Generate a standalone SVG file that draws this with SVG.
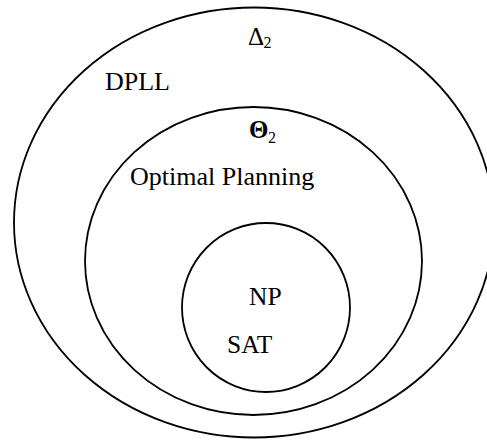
<svg xmlns="http://www.w3.org/2000/svg" width="487" height="440" viewBox="0 0 487 440">
<style>
.set{fill:none;stroke:#000;stroke-width:1.8}
text{fill:#000}
.lbl{font-size:26px}
.lbs{font-size:25.5px}
.sym{font-size:25px}
.sub{font-size:16px}
</style>
<rect width="487" height="440" fill="#fff"/>
<g id="delta2">
<ellipse class="set" cx="254" cy="222.5" rx="240" ry="215"/>
<text class="sym" x="248" y="45" font-family="Liberation Serif, serif">Δ</text><text class="sub" x="263.5" y="48" font-family="Liberation Serif, serif">2</text>
<text class="lbl" x="105" y="90" font-family="Liberation Serif, serif">DPLL</text>
</g>
<g id="theta2">
<ellipse class="set" cx="253.5" cy="261" rx="168.5" ry="154"/>
<text class="sym" x="249" y="138" font-family="Liberation Serif, serif" font-weight="bold">Θ</text><text class="sub" x="268" y="143" font-family="Liberation Serif, serif">2</text>
<text class="lbl" x="130" y="185" font-family="Liberation Serif, serif">Optimal Planning</text>
</g>
<g id="np">
<ellipse class="set" cx="266" cy="307.5" rx="84" ry="84.5"/>
<text class="lbs" x="249" y="305" font-family="Liberation Serif, serif">NP</text>
<text class="lbs" x="227" y="353" font-family="Liberation Serif, serif">SAT</text>
</g>
<g id="connectors"/>
</svg>
